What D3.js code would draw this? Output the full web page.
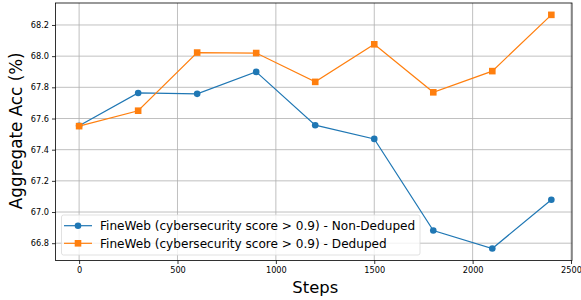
<!DOCTYPE html>
<html><head><meta charset="utf-8">
<script src="https://cdn.jsdelivr.net/npm/d3@7"></script>
<style>body{margin:0;background:#fff}svg{display:block;font-family:"DejaVu Sans",sans-serif}</style>
</head><body><svg id="c" width="581" height="300"></svg>
<script>
const steps = [0, 300, 600, 900, 1200, 1500, 1800, 2100, 2400];
const nonDeduped = [67.553, 67.764, 67.758, 67.899, 67.557, 67.469, 66.881, 66.766, 67.079];
const deduped = [67.551, 67.650, 68.023, 68.020, 67.835, 68.076, 67.768, 67.904, 68.265];
const xTicks = [0, 500, 1000, 1500, 2000, 2500];
const yTicks = [66.8, 67.0, 67.2, 67.4, 67.6, 67.8, 68.0, 68.2];
const seriesNames = ["FineWeb (cybersecurity score > 0.9) - Non-Deduped", "FineWeb (cybersecurity score > 0.9) - Deduped"];
const colors = ["#1f77b4", "#ff7f0e"];

const svg = d3.select("#c");
const L = 55.5, R = 572, T = 3, B = 260.5;
const x = d3.scaleLinear().domain([-120, 2505]).range([L, R]);
const y = d3.scaleLinear().domain([66.689, 68.341]).range([B, T]);

// grid
const g = svg.append("g");
g.selectAll(".gx").data(xTicks).join("line").attr("x1", d => x(d)).attr("x2", d => x(d)).attr("y1", T).attr("y2", B)
  .attr("stroke", "#b0b0b0").attr("stroke-width", 0.8);
g.selectAll(".gy").data(yTicks).join("line").attr("y1", d => y(d)).attr("y2", d => y(d)).attr("x1", L).attr("x2", R)
  .attr("stroke", "#b0b0b0").attr("stroke-width", 0.8);

// axes
const xa = svg.append("g").attr("transform", `translate(0,${B})`)
  .call(d3.axisBottom(x).tickValues(xTicks).tickSize(3.5).tickPadding(3).tickFormat(d3.format("d")));
const ya = svg.append("g").attr("transform", `translate(${L},0)`)
  .call(d3.axisLeft(y).tickValues(yTicks).tickSize(3.5).tickPadding(3).tickFormat(d3.format(".1f")));
[xa, ya].forEach(a => {
  a.select(".domain").remove();
  a.selectAll("text").attr("font-size", 8.2).attr("fill", "#000").attr("font-family", "DejaVu Sans");
  a.selectAll("line").attr("stroke", "#000").attr("stroke-width", 0.8);
});
svg.append("rect").attr("x", L).attr("y", T).attr("width", R - L).attr("height", B - T)
  .attr("fill", "none").attr("stroke", "#000").attr("stroke-width", 0.8);

// lines
const line = d3.line().x((d, i) => x(steps[i])).y(d => y(d));
[nonDeduped, deduped].forEach((s, k) => {
  svg.append("path").attr("d", line(s)).attr("fill", "none").attr("stroke", colors[k]).attr("stroke-width", 1.2);
  if (k === 0) {
    svg.selectAll(".m0").data(s).join("circle").attr("cx", (d, i) => x(steps[i])).attr("cy", d => y(d)).attr("r", 3.3).attr("fill", colors[0]);
  } else {
    svg.selectAll(".m1").data(s).join("rect").attr("x", (d, i) => x(steps[i]) - 3.3).attr("y", d => y(d) - 3.3)
      .attr("width", 6.6).attr("height", 6.6).attr("fill", colors[1]);
  }
});

// axis labels
svg.append("text").attr("x", (L + R) / 2 + 1.5).attr("y", 292.7).attr("text-anchor", "middle").attr("font-size", 16.4).text("Steps");
svg.append("text").attr("transform", `translate(22,${(T + B) / 2 - 1}) rotate(-90)`).attr("text-anchor", "middle")
  .attr("font-size", 16.8).text("Aggregate Acc (%)");

// legend
const lg = svg.append("g");
lg.append("rect").attr("x", 61.5).attr("y", 215).attr("width", 358.5).attr("height", 40).attr("rx", 2)
  .attr("fill", "#fff").attr("fill-opacity", 0.8).attr("stroke", "#d9d9d9").attr("stroke-width", 0.8);
seriesNames.forEach((n, k) => {
  const yy = 225.7 + k * 17.6;
  lg.append("line").attr("x1", 64).attr("x2", 92).attr("y1", yy).attr("y2", yy).attr("stroke", colors[k]).attr("stroke-width", 1.2);
  if (k === 0) lg.append("circle").attr("cx", 78).attr("cy", yy).attr("r", 3.3).attr("fill", colors[k]);
  else lg.append("rect").attr("x", 74.7).attr("y", yy - 3.3).attr("width", 6.6).attr("height", 6.6).attr("fill", colors[k]);
  lg.append("text").attr("x", 100).attr("y", yy + 4.3).attr("font-size", 12.1).text(n);
});
</script></body></html>
